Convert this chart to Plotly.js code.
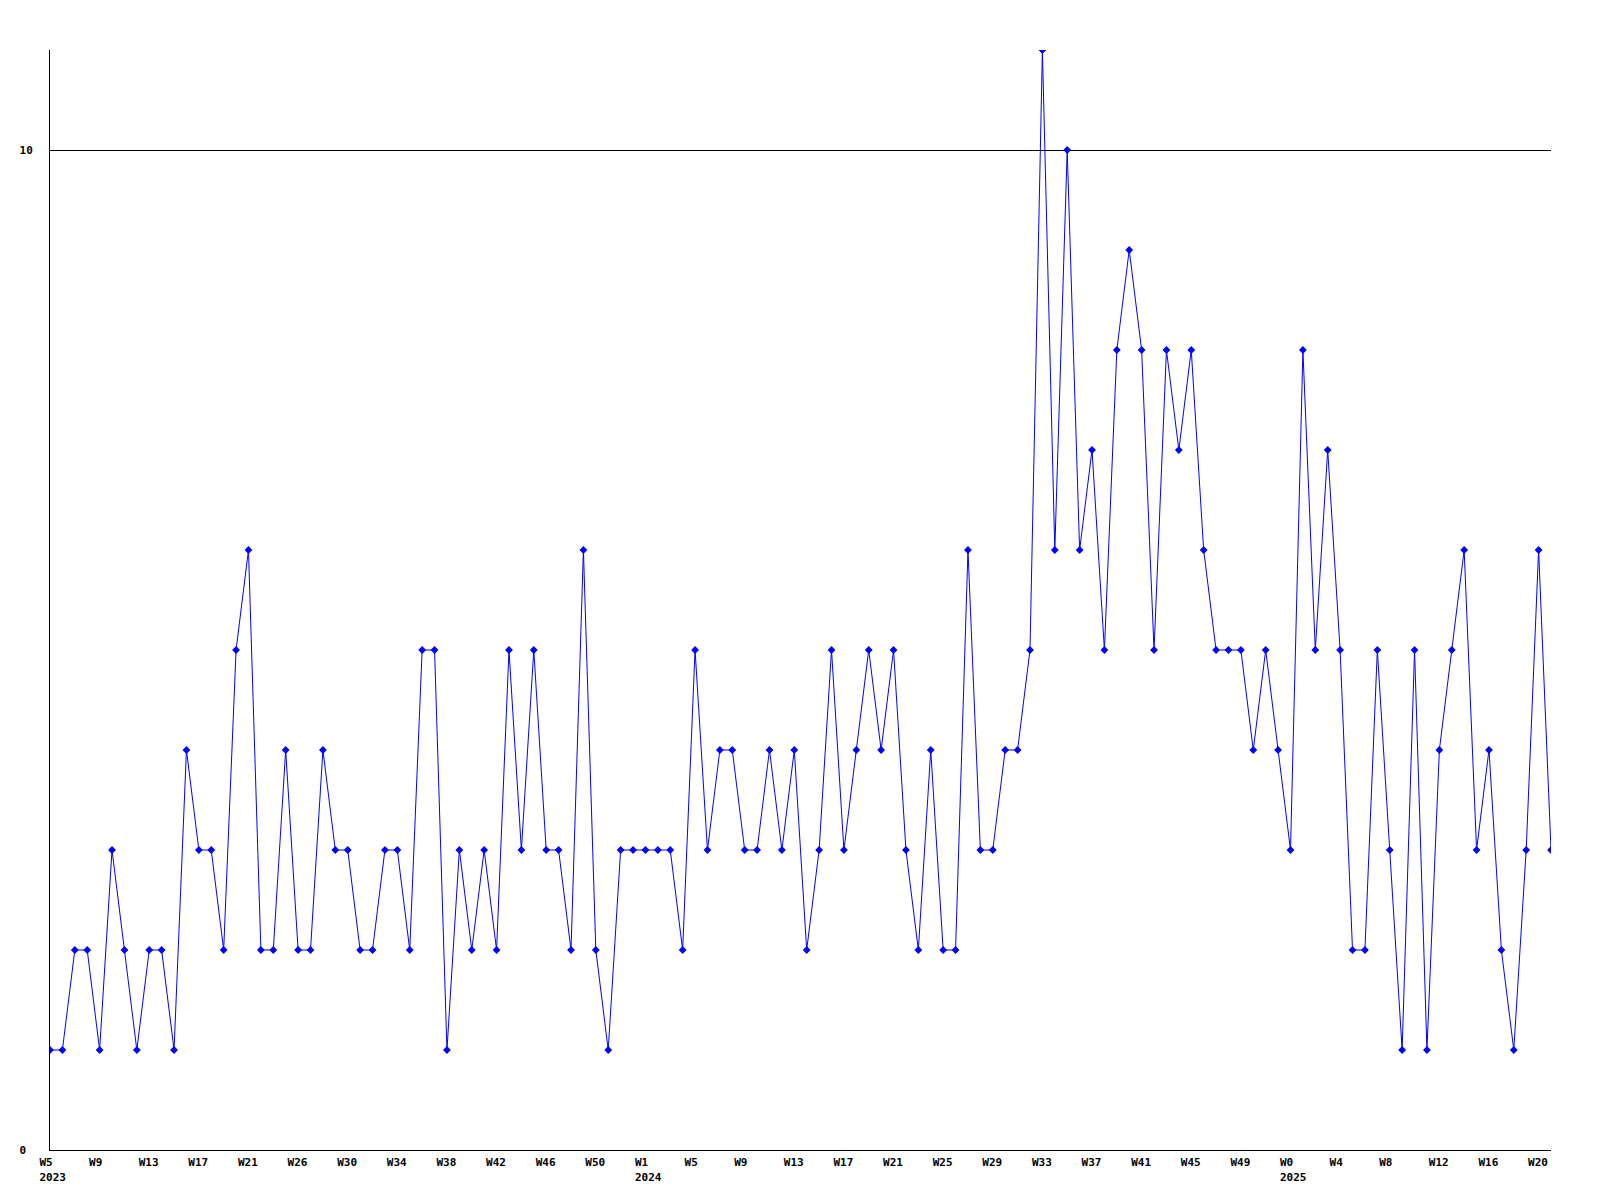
<!DOCTYPE html>
<html>
<head>
<meta charset="utf-8">
<script src="https://cdn.plot.ly/plotly-3.0.1.min.js"></script>
<style>
  html, body { margin: 0; padding: 0; background: #ffffff; }
  #chart { width: 1600px; height: 1200px; }
</style>
</head>
<body>
<div id="chart"></div>
<script>
// Weekly counts, from 2023 W5 to 2025 W20 (one value per week)
const counts = [
  1, 1, 2, 2, 1, 3, 2, 1, 2, 2,
  1, 4, 3, 3, 2, 5, 6, 2, 2, 4,
  2, 2, 4, 3, 3, 2, 2, 3, 3, 2,
  5, 5, 1, 3, 2, 3, 2, 5, 3, 5,
  3, 3, 2, 6, 2, 1, 3, 3, 3, 3,
  3, 2, 5, 3, 4, 4, 3, 3, 4, 3,
  4, 2, 3, 5, 3, 4, 5, 4, 5, 3,
  2, 4, 2, 2, 6, 3, 3, 4, 4, 5,
  11, 6, 10, 6, 7, 5, 8, 9, 8, 5,
  8, 7, 8, 6, 5, 5, 5, 4, 5, 4,
  3, 8, 5, 7, 5, 2, 2, 5, 3, 1,
  5, 1, 4, 5, 6, 3, 4, 2, 1, 3,
  6, 3
];

// Tick labels, one every 4 weeks
const tickLabels = [
  'W5<br>2023', 'W9', 'W13', 'W17', 'W21', 'W26', 'W30', 'W34', 'W38', 'W42', 'W46', 'W50',
  'W1<br>2024', 'W5', 'W9', 'W13', 'W17', 'W21', 'W25', 'W29', 'W33', 'W37', 'W41', 'W45', 'W49',
  'W0<br>2025', 'W4', 'W8', 'W12', 'W16', 'W20'
];
const tickStep = 4;

const yTickVals = [0, 10];
const yTickText = ['0\u00a0', '10'];

const xIdx = counts.map((_, i) => i);
const tickVals = tickLabels.map((_, i) => i * tickStep);

const font = { family: '"DejaVu Sans Mono", "Liberation Mono", monospace', size: 11, color: '#000000' };

const trace = {
  x: xIdx,
  y: counts,
  type: 'scatter',
  mode: 'lines+markers',
  line: { color: '#0000ff', width: 1 },
  marker: { symbol: 'diamond', size: 6, color: '#0000ff' },
  hoverinfo: 'y'
};

const layout = {
  width: 1600,
  height: 1200,
  paper_bgcolor: '#ffffff',
  plot_bgcolor: '#ffffff',
  margin: { l: 50, r: 49, t: 50, b: 50, pad: 0 },
  showlegend: false,
  font: font,
  xaxis: {
    range: [0, counts.length - 1],
    tickmode: 'array',
    tickvals: tickVals,
    ticktext: tickLabels,
    ticks: '',
    showgrid: false,
    zeroline: false,
    showline: true,
    linecolor: '#000000',
    linewidth: 1,
    ticklabelposition: 'outside right',
    ticklabelshift: -11,
    ticklabelstandoff: 2,
    tickfont: { family: font.family, size: 11, color: '#000000', weight: 'bold' },
    fixedrange: true
  },
  yaxis: {
    range: [0, 11],
    tickmode: 'array',
    tickvals: yTickVals,
    ticktext: yTickText,
    ticks: '',
    showgrid: true,
    gridcolor: '#000000',
    gridwidth: 1,
    zeroline: false,
    showline: true,
    linecolor: '#000000',
    linewidth: 1,
    ticklabelstandoff: 14,
    tickfont: { family: font.family, size: 11, color: '#000000', weight: 'bold' },
    fixedrange: true
  }
};

Plotly.newPlot('chart', [trace], layout, { displayModeBar: false, staticPlot: true });
</script>
</body>
</html>
